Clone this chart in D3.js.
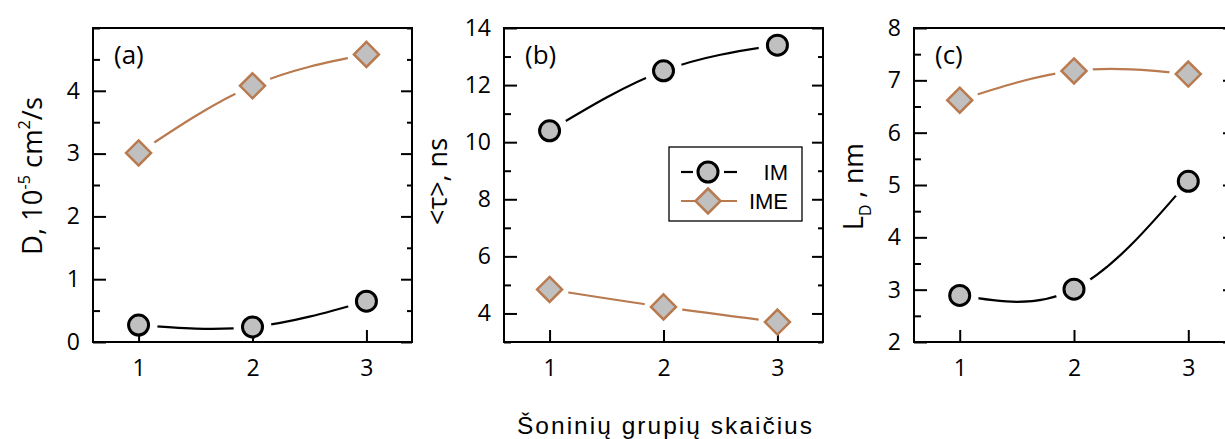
<!DOCTYPE html>
<html><head><meta charset="utf-8">
<script src="https://cdn.jsdelivr.net/npm/d3@7/dist/d3.min.js"></script>
<style>
body{margin:0;background:#fff;}
svg{display:block;}
</style></head>
<body>
<svg id="chart" width="1225" height="439"></svg>
<script>
// ---- data ----
const categories = [1, 2, 3];
const D_IM = [0.27, 0.24, 0.65];
const D_IME = [3.01, 4.08, 4.58];
const tau_IM = [10.4, 12.5, 13.4];
const tau_IME = [4.84, 4.23, 3.70];
const LD_IM = [2.89, 3.01, 5.07];
const LD_IME = [6.62, 7.18, 7.12];
const xTickLabels = [1, 2, 3];
const aTicks = [0, 1, 2, 3, 4];
const bTicks = [4, 6, 8, 10, 12, 14];
const cTicks = [2, 3, 4, 5, 6, 7, 8];
const seriesNames = ["IM", "IME"];

const svg = d3.select("#chart");
const FONT = "'Open Sans', sans-serif";
const BROWN = "#b87a4e";
const FILL = "#c0c0c0";

const panels = [
  {id:"a", left:93, right:412, yDomain:[0,5], ticks:aTicks, minorStep:0.5, im:D_IM, ime:D_IME},
  {id:"b", left:504, right:823, yDomain:[3,14], ticks:bTicks, minorStep:1, im:tau_IM, ime:tau_IME},
  {id:"c", left:914, right:1234, yDomain:[2,8], ticks:cTicks, minorStep:0.5, im:LD_IM, ime:LD_IME}
];
const plotTop = 28, plotBottom = 342;

function diamondPath(cx, cy, r){
  return `M${cx},${cy-r}L${cx+r},${cy}L${cx},${cy+r}L${cx-r},${cy}Z`;
}

const defs = svg.append("defs");

panels.forEach(p => {
  const x = d3.scaleLinear().domain([0.6, 3.4]).range([p.left, p.right]);
  const y = d3.scaleLinear().domain(p.yDomain).range([plotBottom, plotTop]);
  const g = svg.append("g");

  const mask = defs.append("mask").attr("id", "m" + p.id).attr("maskUnits","userSpaceOnUse")
    .attr("x",0).attr("y",0).attr("width",1225).attr("height",439);
  mask.append("rect").attr("x",0).attr("y",0).attr("width",1225).attr("height",439).attr("fill","#fff");
  [p.im, p.ime].forEach(arr => arr.forEach((v,i) => {
    mask.append("circle").attr("cx", x(categories[i])).attr("cy", y(v)).attr("r", 19).attr("fill","#000");
  }));

  const line = d3.line().x((d,i)=>x(categories[i])).y(d=>y(d)).curve(d3.curveNatural);
  const lg = g.append("g").attr("mask", `url(#m${p.id})`);
  lg.append("path").attr("d", line(p.im)).attr("fill","none").attr("stroke","#000").attr("stroke-width",2.2);
  lg.append("path").attr("d", line(p.ime)).attr("fill","none").attr("stroke",BROWN).attr("stroke-width",2.2);

  const minor = d3.range(p.yDomain[0], p.yDomain[1] + 1e-9, p.minorStep).filter(v => !p.ticks.some(t => Math.abs(t-v)<1e-9));
  const fmt = d3.format("d");
  const yAxisL = d3.axisLeft(y).tickValues(p.ticks).tickFormat(fmt).tickSizeInner(-13).tickSizeOuter(0).tickPadding(13);
  const ga = g.append("g").attr("transform", `translate(${p.left},0)`).call(yAxisL);
  ga.select(".domain").remove();
  ga.selectAll("line").attr("stroke","#000").attr("stroke-width",2);
  ga.selectAll("text").attr("font-family",FONT).attr("font-size",23).attr("fill","#000");
  const yMinL = d3.axisLeft(y).tickValues(minor).tickSizeInner(-7).tickSizeOuter(0).tickFormat("");
  const gm = g.append("g").attr("transform", `translate(${p.left},0)`).call(yMinL);
  gm.select(".domain").remove(); gm.selectAll("line").attr("stroke","#000").attr("stroke-width",2);
  const yAxisR = d3.axisRight(y).tickValues(p.ticks).tickSizeInner(-11).tickSizeOuter(0).tickFormat("");
  const gr = g.append("g").attr("transform", `translate(${p.right},0)`).call(yAxisR);
  gr.select(".domain").remove(); gr.selectAll("line").attr("stroke","#000").attr("stroke-width",2);
  const yMinR = d3.axisRight(y).tickValues(minor).tickSizeInner(-5).tickSizeOuter(0).tickFormat("");
  const gmr = g.append("g").attr("transform", `translate(${p.right},0)`).call(yMinR);
  gmr.select(".domain").remove(); gmr.selectAll("line").attr("stroke","#000").attr("stroke-width",2);
  const xAxis = d3.axisBottom(x).tickValues(xTickLabels).tickFormat(fmt).tickSizeInner(-12).tickSizeOuter(0).tickPadding(18);
  const gx = g.append("g").attr("transform", `translate(0,${plotBottom})`).call(xAxis);
  gx.select(".domain").remove();
  gx.selectAll("line").attr("stroke","#000").attr("stroke-width",2);
  gx.selectAll("text").attr("font-family",FONT).attr("font-size",23).attr("fill","#000");

  g.append("rect").attr("x",p.left).attr("y",plotTop).attr("width",p.right-p.left).attr("height",plotBottom-plotTop)
    .attr("fill","none").attr("stroke","#000").attr("stroke-width",2);

  p.im.forEach((v,i) => {
    g.append("circle").attr("cx",x(categories[i])).attr("cy",y(v)).attr("r",10)
      .attr("fill",FILL).attr("stroke","#000").attr("stroke-width",3);
  });
  p.ime.forEach((v,i) => {
    g.append("path").attr("d", diamondPath(x(categories[i]), y(v), 12.5))
      .attr("fill",FILL).attr("stroke",BROWN).attr("stroke-width",2.5);
  });

  g.append("text").attr("x", p.left + 21).attr("y", 64).attr("font-family",FONT).attr("font-size",26)
    .attr("fill","#000").text(`(${p.id})`);
});

// y titles, horizontally fitted to the reference's narrower font
function fitLabel(sel, cx, cy, target){
  const w = sel.node().getBBox().width;
  const k = target / w;
  sel.attr("transform", `translate(${cx},${cy}) rotate(-90) scale(${k},1)`);
}
const t1 = svg.append("text").attr("text-anchor","middle")
  .attr("font-family",FONT).attr("font-size",27).attr("fill","#000");
t1.append("tspan").text("D, 10");
t1.append("tspan").attr("font-size",16).attr("dy",-12).text("-5");
t1.append("tspan").attr("dy",12).text(" cm");
t1.append("tspan").attr("font-size",16).attr("dy",-12).text("2");
t1.append("tspan").attr("dy",12).text("/s");
fitLabel(t1, 42, 176, 158);

const t2 = svg.append("text").attr("text-anchor","middle")
  .attr("font-family",FONT).attr("font-size",27).attr("fill","#000").text("<τ>, ns");
fitLabel(t2, 447, 181.5, 87);

const t3 = svg.append("text").attr("text-anchor","middle")
  .attr("font-family",FONT).attr("font-size",27).attr("fill","#000");
t3.append("tspan").text("L");
t3.append("tspan").attr("font-size",16).attr("dy",8).text("D");
t3.append("tspan").attr("dy",-8).text(" , nm");
fitLabel(t3, 863, 186.5, 87);

svg.append("text").attr("x",517).attr("y",434)
  .attr("font-family","'Liberation Sans', Arial, sans-serif").attr("font-size",24.5).attr("fill","#000")
  .attr("textLength",295).attr("lengthAdjust","spacing")
  .text("Šoninių grupių skaičius");

const leg = svg.append("g");
leg.append("rect").attr("x",669).attr("y",147).attr("width",133).attr("height",74)
  .attr("fill","#fff").attr("stroke","#000").attr("stroke-width",1.3);
const rows = [172, 201];
leg.append("line").attr("x1",681).attr("x2",693).attr("y1",rows[0]).attr("y2",rows[0]).attr("stroke","#000").attr("stroke-width",2.2);
leg.append("line").attr("x1",724).attr("x2",737).attr("y1",rows[0]).attr("y2",rows[0]).attr("stroke","#000").attr("stroke-width",2.2);
leg.append("circle").attr("cx",708).attr("cy",rows[0]).attr("r",10).attr("fill",FILL).attr("stroke","#000").attr("stroke-width",3);
leg.append("line").attr("x1",681).attr("x2",737).attr("y1",rows[1]).attr("y2",rows[1]).attr("stroke",BROWN).attr("stroke-width",2.2);
leg.append("path").attr("d",diamondPath(708,rows[1],12.5)).attr("fill",FILL).attr("stroke",BROWN).attr("stroke-width",2.5);
seriesNames.forEach((n,i) => {
  leg.append("text").attr("x",788).attr("y",rows[i]+8).attr("text-anchor","end")
    .attr("font-family","'Liberation Sans', Arial, sans-serif").attr("font-size",22).attr("fill","#000").text(n);
});
</script>
</body></html>
